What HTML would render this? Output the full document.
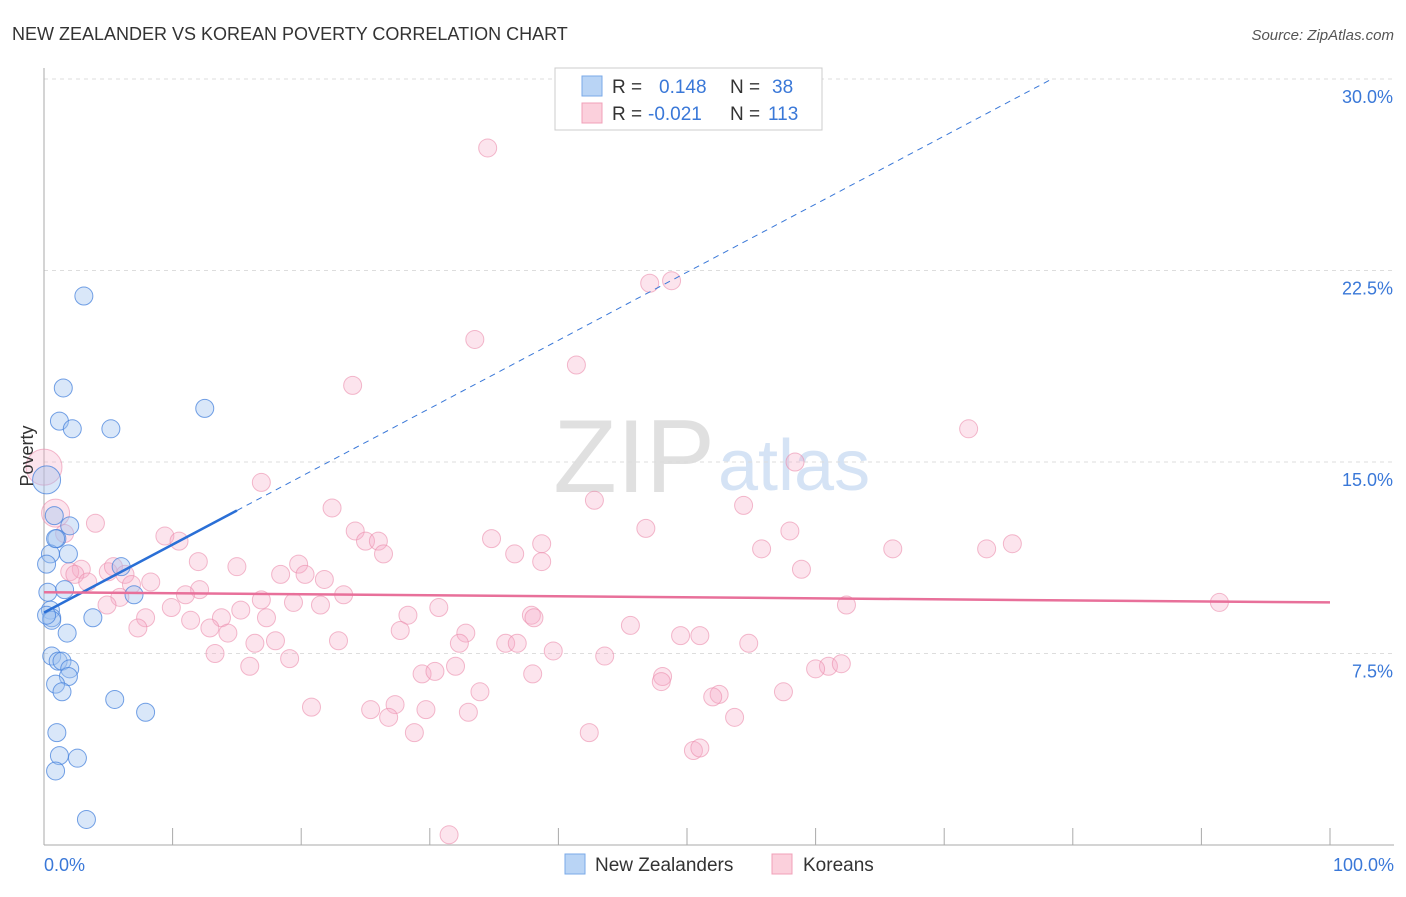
<!DOCTYPE html>
<html><head><meta charset="utf-8"><style>
body{margin:0;background:#fff;font-family:"Liberation Sans",sans-serif}
svg text{font-family:"Liberation Sans",sans-serif}
</style></head><body>
<svg id="c" width="1406" height="892">
<text x="12" y="40" font-size="18" fill="#333">NEW ZEALANDER VS KOREAN POVERTY CORRELATION CHART</text>
<text x="1394" y="40" font-size="15" fill="#555" font-style="italic" text-anchor="end">Source: ZipAtlas.com</text>
<text x="715" y="492" font-size="104" fill="#e0e0e0" text-anchor="end" font-family="Liberation Serif">ZIP</text>
<text x="718" y="490" font-size="72" fill="#d5e3f5">atlas</text>
<g id="grid"></g><g id="pts"></g><g id="lines"></g>
<text x="33" y="456" font-size="18" fill="#333" transform="rotate(-90 33 456)" text-anchor="middle">Poverty</text>
<g>
<rect x="555" y="68" width="267" height="62" fill="#fff" stroke="#ccc"/>
<rect x="582" y="76" width="20" height="20" fill="#b9d4f5" stroke="#7aaae8"/>
<rect x="582" y="103" width="20" height="20" fill="#fbd0dc" stroke="#f0a0b8"/>
<text x="612" y="93" font-size="19" fill="#333">R =</text>
<text x="659" y="93" font-size="19" fill="#3a78d8">0.148</text>
<text x="730" y="93" font-size="19" fill="#333">N =</text>
<text x="772" y="93" font-size="19" fill="#3a78d8">38</text>
<text x="612" y="120" font-size="19" fill="#333">R =</text>
<text x="648" y="120" font-size="19" fill="#3a78d8">-0.021</text>
<text x="730" y="120" font-size="19" fill="#333">N =</text>
<text x="768" y="120" font-size="19" fill="#3a78d8">113</text>
</g>
<g>
<rect x="565" y="854" width="20" height="20" fill="#b9d4f5" stroke="#7aaae8"/>
<text x="595" y="871" font-size="19" fill="#333">New Zealanders</text>
<rect x="772" y="854" width="20" height="20" fill="#fbd0dc" stroke="#f0a0b8"/>
<text x="803" y="871" font-size="19" fill="#333">Koreans</text>
</g>
</svg>
<script>
const yTicks=[7.5,15,22.5,30];
const yTickLabels=["7.5%","15.0%","22.5%","30.0%"];
const xTickLabels=["0.0%","100.0%"];
const nzX=[3.1,1.5,1.2,2.2,5.2,12.5,0.2,0.8,2.0,1.0,0.5,1.9,6,0.3,1.6,7,0.5,0.6,3.8,1.8,0.6,1.1,1.4,2.0,1.9,0.9,1.4,5.5,7.9,1.0,1.2,2.6,0.9,3.3,0.2,0.6,0.9,0.2];
const nzY=[21.5,17.9,16.6,16.3,16.3,17.1,14.3,12.9,12.5,12.0,11.4,11.4,10.9,9.9,10.0,9.8,9.2,8.9,8.9,8.3,7.4,7.2,7.2,6.9,6.6,6.3,6.0,5.7,5.2,4.4,3.5,3.4,2.9,1.0,11.0,8.8,12.0,9.0];
const koX=[34.5,48.8,47.1,33.5,24.0,41.4,71.9,58.4,0,16.9,0.9,42.8,22.4,54.4,4,46.8,58,24.2,1.6,9.4,10.5,25.0,26,34.8,38.7,55.8,66,73.3,75.3,26.4,36.6,38.7,12,15,19.8,58.9,2.9,2,5,2.4,18.4,20.3,21.8,5.4,6.3,8.3,6.8,3.4,12.1,11,23.3,5.9,16.9,4.9,9.9,15.3,17.3,19.4,21.5,30.7,28.3,37.9,38.1,62.4,91.4,7.9,11.4,13.8,45.6,12.9,14.3,7.3,27.7,32.8,49.5,51,22.9,18,16.4,32.3,35.9,36.8,54.8,13.3,19.1,39.6,43.6,16,32,61,60,62,29.4,30.4,38,48.1,48,33.9,57.5,52.5,52,20.8,25.4,27.3,29.7,26.8,53.7,28.8,42.4,50.5,51,31.5,33];
const koY=[27.3,22.1,22.0,19.8,18.0,18.8,16.3,15.0,14.8,14.2,13.0,13.5,13.2,13.3,12.6,12.4,12.3,12.3,12.2,12.1,11.9,11.9,11.9,12.0,11.8,11.6,11.6,11.6,11.8,11.4,11.4,11.1,11.1,10.9,11.0,10.8,10.8,10.7,10.7,10.6,10.6,10.6,10.4,10.9,10.6,10.3,10.2,10.3,10.0,9.8,9.8,9.7,9.6,9.4,9.3,9.2,8.9,9.5,9.4,9.3,9.0,9.0,8.9,9.4,9.5,8.9,8.8,8.9,8.6,8.5,8.3,8.5,8.4,8.3,8.2,8.2,8.0,8.0,7.9,7.9,7.9,7.9,7.9,7.5,7.3,7.6,7.4,7.0,7.0,7.0,6.9,7.1,6.7,6.8,6.7,6.6,6.4,6.0,6.0,5.9,5.8,5.4,5.3,5.5,5.3,5.0,5.0,4.4,4.4,3.7,3.8,0.4,5.2];
const nzLine=[0,9.1,15,13.1]; const koLine=[0,9.9,100,9.5];
const X0=44,X1=1330,Y0=845,Y30=79;
const sx=v=>X0+(X1-X0)*v/100, sy=v=>Y0-(Y0-Y30)*v/30;
const NS="http://www.w3.org/2000/svg";
function mk(t,a,p){const e=document.createElementNS(NS,t);for(const k in a)e.setAttribute(k,a[k]);p.appendChild(e);return e;}
const g=document.getElementById('grid');
yTicks.forEach((t,i)=>{const l=mk('line',{x1:44,x2:1394,y1:sy(t),y2:sy(t),stroke:'#ddd','stroke-dasharray':'4,4'},g);


const tx=mk('text',{x:1393,y:sy(t)+24,'font-size':18,fill:'#3a78d8','text-anchor':'end'},g);tx.textContent=yTickLabels[i];

});
mk('line',{x1:44,x2:44,y1:68,y2:845,stroke:'#aaa'},g);
mk('line',{x1:44,x2:1394,y1:845,y2:845,stroke:'#aaa'},g);
for(let i=0;i<=10;i++){const t=mk('line',{x1:sx(i*10),x2:sx(i*10),y1:828,y2:845,stroke:'#aaa'},g);

}
[[44,'start'],[1394,'end']].forEach((p,i)=>{const t=mk('text',{x:p[0],y:871,'font-size':18,fill:'#3a78d8','text-anchor':p[1]},g);t.textContent=xTickLabels[i];

});
const P=document.getElementById('pts');
koX.forEach((x,i)=>{const r=(x===0?18:(x<1?14:9));const c=mk('circle',{cx:sx(x),cy:sy(koY[i]),r:r,fill:'rgba(246,170,198,0.32)',stroke:'rgba(235,140,172,0.6)'},P);

});
nzX.forEach((x,i)=>{const c=mk('circle',{cx:sx(x),cy:sy(nzY[i]),r:(i===6?14:9),fill:'rgba(160,196,240,0.4)',stroke:'rgba(70,130,220,0.75)'},P);

});
const L=document.getElementById('lines');
const slope=(nzLine[3]-nzLine[1])/(nzLine[2]-nzLine[0]);
const xEnd=nzLine[0]+(30-nzLine[1])/slope;
const d=mk('line',{x1:sx(nzLine[2]),y1:sy(nzLine[3]),x2:sx(xEnd),y2:sy(30),stroke:'#3a78d8','stroke-width':1,'stroke-dasharray':'6,5'},L);


const s=mk('line',{x1:sx(nzLine[0]),y1:sy(nzLine[1]),x2:sx(nzLine[2]),y2:sy(nzLine[3]),stroke:'#2a6fd6','stroke-width':2.5},L);


const k=mk('line',{x1:sx(koLine[0]),y1:sy(koLine[1]),x2:sx(koLine[2]),y2:sy(koLine[3]),stroke:'#e8709a','stroke-width':2.5},L);


</script>
</body></html>
